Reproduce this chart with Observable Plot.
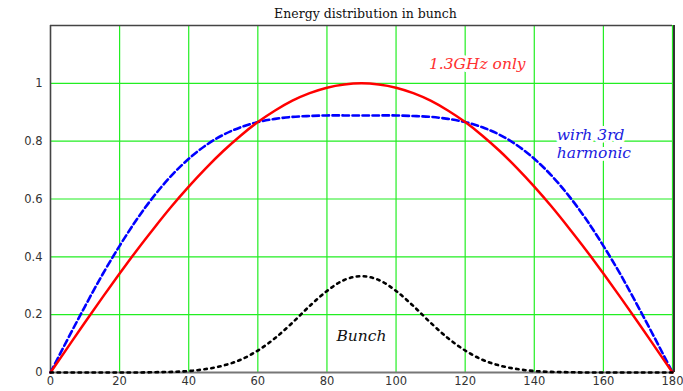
<!DOCTYPE html>
<html>
<head>
<meta charset="utf-8">
<script src="https://cdn.jsdelivr.net/npm/d3@7"></script>
<script src="https://cdn.jsdelivr.net/npm/@observablehq/plot@0.6"></script>
<style>
  html, body { margin: 0; padding: 0; background: #fff; width: 683px; height: 391px; overflow: hidden; }
  #title { height: 24px; line-height: 28px; text-align: center; font-family: "DejaVu Serif", serif; font-size: 12.5px; color: #111; padding-left: 48px; box-sizing: border-box; width: 683px; }
</style>
</head>
<body>
<div id="title">Energy distribution in bunch</div>
<div id="chart"></div>
<script>
const phase = [0,5,10,15,20,25,30,35,40,45,50,55,60,65,70,75,80,85,90,95,100,105,110,115,120,125,130,135,140,145,150,155,160,165,170,175,180];
const only13 = [0,0.087,0.174,0.259,0.342,0.423,0.5,0.574,0.643,0.707,0.766,0.819,0.866,0.906,0.940,0.966,0.985,0.996,1,0.996,0.985,0.966,0.940,0.906,0.866,0.819,0.766,0.707,0.643,0.574,0.5,0.423,0.342,0.259,0.174,0.087,0];
const with3rd = [0,0.116,0.229,0.338,0.438,0.530,0.611,0.681,0.739,0.786,0.822,0.848,0.866,0.877,0.884,0.887,0.889,0.889,0.889,0.889,0.889,0.887,0.884,0.877,0.866,0.848,0.822,0.786,0.739,0.681,0.611,0.530,0.438,0.338,0.229,0.116,0];
const bunch = [0,0,0,0,0,0,0.001,0.002,0.005,0.012,0.024,0.044,0.076,0.119,0.172,0.230,0.282,0.320,0.333,0.320,0.282,0.230,0.172,0.119,0.076,0.044,0.024,0.012,0.005,0.002,0.001,0,0,0,0,0,0];
const xTicks = [0,20,40,60,80,100,120,140,160,180];
const yTicks = [0,0.2,0.4,0.6,0.8,1];
const centeredLabels = [
  {x: 123.5, y: 1.066, text: "1.3GHz only", color: "#ff3030"},
  {x: 90, y: 0.125, text: "Bunch", color: "#111"}
];
const leftLabels = [
  {x: 146.5, y: 0.822, text: "wirh 3rd", color: "#2020e0"},
  {x: 146.5, y: 0.758, text: "harmonic", color: "#2020e0"}
];

const rows = phase.map((p, i) => ({p, a: only13[i], b: with3rd[i], c: bunch[i]}));
const labelStyle = {x: "x", y: "y", text: "text", fill: "color",
  fontFamily: "'DejaVu Serif', serif", fontStyle: "italic", fontSize: 15.5, stroke: "white", strokeWidth: 6};

const chart = Plot.plot({
  width: 683,
  height: 367,
  marginLeft: 50,
  marginRight: 11,
  marginTop: 1,
  marginBottom: 19,
  style: {fontFamily: "'DejaVu Sans', sans-serif", fontSize: "11.5px", color: "#333", background: "#fff"},
  color: {type: "identity"},
  x: {domain: [0, 180], ticks: xTicks, tickSize: 0, tickPadding: 4, label: null, tickFormat: d => String(d)},
  y: {domain: [0, 1.2], ticks: yTicks, tickSize: 0, tickPadding: 8, label: null, tickFormat: d => String(d)},
  marks: [
    Plot.ruleX(xTicks.filter(d => d > 0), {stroke: "#22ee22", strokeWidth: 1.2}),
    Plot.ruleY(yTicks.filter(d => d > 0), {stroke: "#22ee22", strokeWidth: 1.2}),
    Plot.ruleX([180], {stroke: "#333", strokeWidth: 2, dx: 1.5}),
    Plot.ruleX([0], {stroke: "#444", strokeWidth: 1.6}),
    Plot.ruleY([1.2], {stroke: "#444", strokeWidth: 1.6}),
    Plot.ruleY([0], {stroke: "#777", strokeWidth: 2}),
    Plot.lineY(rows, {x: "p", y: "b", stroke: "#0000ff", strokeWidth: 2.6, strokeDasharray: "6.5,3.5", curve: "natural"}),
    Plot.lineY(rows, {x: "p", y: "a", stroke: "#ff0000", strokeWidth: 2.5, curve: "natural"}),
    Plot.lineY(rows, {x: "p", y: "c", stroke: "#000", strokeWidth: 2.6, strokeDasharray: "2.5,4.5", curve: "monotone-x"}),
    Plot.text(centeredLabels, {...labelStyle, textAnchor: "middle"}),
    Plot.text(leftLabels, {...labelStyle, textAnchor: "start"})
  ]
});
document.getElementById("chart").appendChild(chart);
</script>
</body>
</html>
